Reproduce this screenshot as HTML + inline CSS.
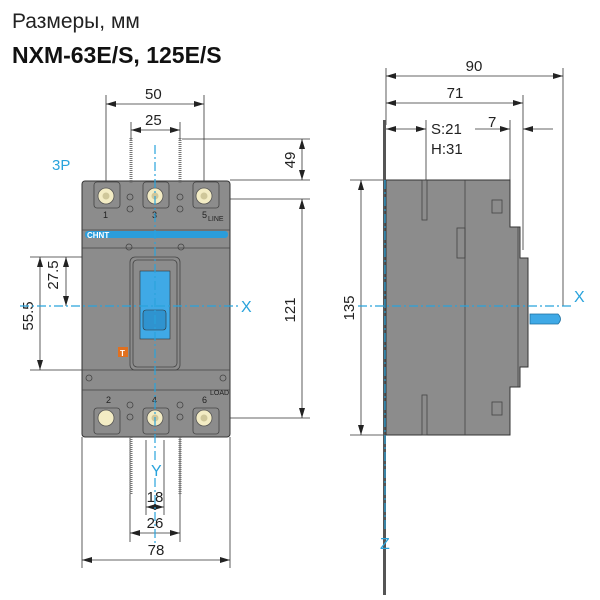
<!DOCTYPE html>
<html><head><style>body{margin:0;background:#fff}svg{display:block}text{font-family:"Liberation Sans",sans-serif}</style></head><body>
<svg width="600" height="600" viewBox="0 0 600 600" xmlns="http://www.w3.org/2000/svg">
<defs>
<marker id="a" viewBox="0 0 10 6" refX="10" refY="3" markerWidth="10" markerHeight="6" orient="auto-start-reverse" markerUnits="userSpaceOnUse"><path d="M0,0L10,3L0,6z" fill="#222"/></marker>
</defs>
<text x="12" y="28" font-size="21" fill="#222">Размеры, мм</text>
<text x="12" y="63" font-size="23" font-weight="bold" fill="#111">NXM-63E/S, 125E/S</text>
<text x="52" y="170" font-size="15" fill="#29a3dc">3P</text>

<g stroke="#333" stroke-width="0.8" fill="none">
<!-- front dims -->
<line x1="106" y1="95" x2="106" y2="195"/><line x1="204" y1="95" x2="204" y2="195"/>
<line x1="106" y1="104" x2="204" y2="104" marker-start="url(#a)" marker-end="url(#a)"/>
<line x1="131" y1="122" x2="131" y2="140"/><line x1="180" y1="122" x2="180" y2="140"/>
<line x1="131" y1="130" x2="180" y2="130" marker-start="url(#a)" marker-end="url(#a)"/>
<line x1="182" y1="139" x2="310" y2="139"/><line x1="230" y1="180" x2="310" y2="180"/>
<line x1="302" y1="139" x2="302" y2="180" marker-start="url(#a)" marker-end="url(#a)"/>
<line x1="212" y1="199" x2="310" y2="199"/><line x1="212" y1="418" x2="310" y2="418"/>
<line x1="302" y1="199" x2="302" y2="418" marker-start="url(#a)" marker-end="url(#a)"/>
<line x1="30" y1="257" x2="130" y2="257"/><line x1="30" y1="370" x2="130" y2="370"/>
<line x1="40" y1="257" x2="40" y2="370" marker-start="url(#a)" marker-end="url(#a)"/>
<line x1="66" y1="257" x2="66" y2="306" marker-start="url(#a)" marker-end="url(#a)"/>
<line x1="146" y1="440" x2="146" y2="515"/><line x1="164" y1="440" x2="164" y2="515"/>
<line x1="146" y1="507" x2="164" y2="507" marker-start="url(#a)" marker-end="url(#a)"/>
<line x1="130" y1="437" x2="130" y2="542"/><line x1="180" y1="437" x2="180" y2="542"/>
<line x1="130" y1="533" x2="180" y2="533" marker-start="url(#a)" marker-end="url(#a)"/>
<line x1="82" y1="437" x2="82" y2="568"/><line x1="230" y1="437" x2="230" y2="568"/>
<line x1="82" y1="560" x2="230" y2="560" marker-start="url(#a)" marker-end="url(#a)"/>
<!-- side dims -->
<line x1="386" y1="68" x2="386" y2="125"/><line x1="563" y1="68" x2="563" y2="306"/>
<line x1="386" y1="76" x2="563" y2="76" marker-start="url(#a)" marker-end="url(#a)"/>
<line x1="523" y1="95" x2="523" y2="250"/>
<line x1="386" y1="103" x2="523" y2="103" marker-start="url(#a)" marker-end="url(#a)"/>
<line x1="426" y1="120" x2="426" y2="215"/>
<line x1="386" y1="129" x2="426" y2="129" marker-start="url(#a)" marker-end="url(#a)"/>
<line x1="510" y1="120" x2="510" y2="182"/>
<line x1="475" y1="129" x2="510" y2="129" marker-end="url(#a)"/>
<line x1="553" y1="129" x2="523" y2="129" marker-end="url(#a)"/>
<line x1="350" y1="180" x2="386" y2="180"/><line x1="350" y1="435" x2="386" y2="435"/>
<line x1="361" y1="180" x2="361" y2="435" marker-start="url(#a)" marker-end="url(#a)"/>
</g>
<g font-size="15" fill="#222">
<text x="145" y="99">50</text><text x="145" y="125">25</text>
<text x="295" y="160" transform="rotate(-90 295 160)" text-anchor="middle">49</text>
<text x="295" y="310" transform="rotate(-90 295 310)" text-anchor="middle">121</text>
<text x="33" y="316" transform="rotate(-90 33 316)" text-anchor="middle">55.5</text>
<text x="58" y="275" transform="rotate(-90 58 275)" text-anchor="middle">27.5</text>
<text x="155" y="502" text-anchor="middle">18</text>
<text x="155" y="528" text-anchor="middle">26</text>
<text x="156" y="555" text-anchor="middle">78</text>
<text x="474" y="71" text-anchor="middle">90</text>
<text x="455" y="98" text-anchor="middle">71</text>
<text x="431" y="134">S:21</text><text x="431" y="154">H:31</text>
<text x="488" y="127">7</text>
<text x="354" y="308" transform="rotate(-90 354 308)" text-anchor="middle">135</text>
</g>

<!-- front view body -->
<rect x="82" y="181" width="148" height="256" rx="3" fill="#8c8c8c" stroke="#333" stroke-width="1"/>
<g stroke="#444" stroke-width="0.8" fill="none">
<rect x="94" y="182" width="26" height="26" rx="3"/><rect x="143" y="182" width="26" height="26" rx="3"/><rect x="193" y="182" width="26" height="26" rx="3"/>
<rect x="94" y="408" width="26" height="26" rx="3"/><rect x="143" y="408" width="26" height="26" rx="3"/><rect x="193" y="408" width="26" height="26" rx="3"/>
<path d="M82,230H230M82,248H230M82,370H230M82,390H230"/>
<rect x="130" y="257" width="50" height="113" rx="5"/><rect x="133" y="260" width="44" height="107" rx="4"/>
<circle cx="130" cy="197" r="3"/><circle cx="130" cy="209" r="3"/><circle cx="180" cy="197" r="3"/><circle cx="180" cy="209" r="3"/>
<circle cx="130" cy="405" r="3"/><circle cx="130" cy="417" r="3"/><circle cx="180" cy="405" r="3"/><circle cx="180" cy="417" r="3"/>
<circle cx="129" cy="247" r="3"/><circle cx="181" cy="247" r="3"/><circle cx="89" cy="378" r="3"/><circle cx="223" cy="378" r="3"/>
</g>
<g fill="#f3ecc4" stroke="#555" stroke-width="0.8">
<circle cx="106" cy="196" r="8"/><circle cx="155" cy="196" r="8"/><circle cx="204" cy="196" r="8"/>
<circle cx="106" cy="418" r="8"/><circle cx="155" cy="418" r="8"/><circle cx="204" cy="418" r="8"/>
</g>
<g fill="#cfc79a"><circle cx="106" cy="196" r="3.5"/><circle cx="155" cy="196" r="3.5"/><circle cx="204" cy="196" r="3.5"/><circle cx="155" cy="418" r="3.5"/><circle cx="204" cy="418" r="3.5"/></g>
<g font-size="9" fill="#222"><text x="103" y="218">1</text><text x="152" y="218">3</text><text x="202" y="218">5</text><text x="208" y="221" font-size="7">LINE</text>
<text x="106" y="403">2</text><text x="152" y="403">4</text><text x="202" y="403">6</text><text x="210" y="395" font-size="7">LOAD</text></g>
<rect x="85" y="231" width="143" height="7" rx="3" fill="#2b9ddb"/>
<text x="87" y="238" font-size="8" font-weight="bold" fill="#fff">CHNT</text>
<rect x="140" y="271" width="30" height="68" fill="#3fa9e6" stroke="#333" stroke-width="0.6"/>
<rect x="143" y="310" width="23" height="20" rx="3" fill="#2f93cf" stroke="#333" stroke-width="0.6"/>
<rect x="118" y="347" width="10" height="10" fill="#e07020"/><text x="120" y="356" font-size="8" fill="#fff" font-weight="bold">T</text>
<!-- screws -->
<g stroke="#777" stroke-width="3" stroke-dasharray="1 1"><line x1="131" y1="138" x2="131" y2="183"/><line x1="180" y1="138" x2="180" y2="183"/><line x1="131" y1="437" x2="131" y2="495"/><line x1="180" y1="437" x2="180" y2="495"/></g>

<!-- side view -->
<rect x="383" y="120" width="3" height="475" fill="#555"/>
<path d="M386,180H510V227H520V258H528V367H520V387H510V435H386Z" fill="#8c8c8c" stroke="#333" stroke-width="1"/>
<g stroke="#444" stroke-width="0.8" fill="none">
<line x1="465" y1="180" x2="465" y2="435"/>
<rect x="422" y="180" width="5" height="40"/><rect x="422" y="395" width="5" height="40"/>
<rect x="457" y="228" width="8" height="30"/>
<rect x="492" y="200" width="10" height="13"/><rect x="492" y="402" width="10" height="13"/>
<line x1="518" y1="227" x2="518" y2="387"/>
</g>
<path d="M530,314H558Q563,319 558,324H530Z" fill="#3fa9e6" stroke="#1d6f9e" stroke-width="0.8"/>

<!-- axes -->
<g stroke="#29a3dc" stroke-width="1.2" stroke-dasharray="9 3 2 3" fill="none">
<line x1="20" y1="306" x2="238" y2="306"/><line x1="155" y1="145" x2="155" y2="460"/><line x1="155" y1="478" x2="155" y2="545"/>
<line x1="358" y1="306" x2="572" y2="306"/><line x1="385" y1="180" x2="385" y2="530"/>
</g>
<g font-size="16" fill="#29a3dc"><text x="241" y="312">X</text><text x="574" y="302">X</text><text x="151" y="476">Y</text><text x="380" y="549">Z</text></g>
</svg>
</body></html>
